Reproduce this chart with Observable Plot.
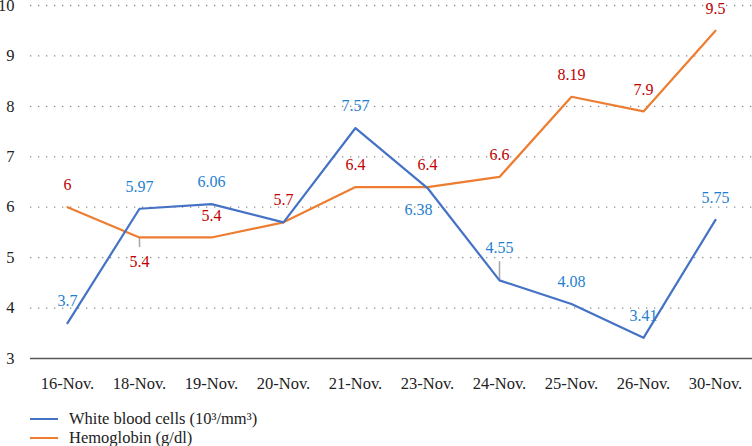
<!DOCTYPE html>
<html>
<head>
<meta charset="utf-8">
<script src="https://cdn.jsdelivr.net/npm/d3@7"></script>
<script src="https://cdn.jsdelivr.net/npm/@observablehq/plot@0.6"></script>
</head>
<body style="margin:0;background:#fff">
<div id="chart"></div>
<div id="legend" style="margin-left:30px;margin-top:11px"></div>
<script>
const dates = ["16-Nov.", "18-Nov.", "19-Nov.", "20-Nov.", "21-Nov.", "23-Nov.", "24-Nov.", "25-Nov.", "26-Nov.", "30-Nov."];
const wbc = [3.7, 5.97, 6.06, 5.7, 7.57, 6.38, 4.55, 4.08, 3.41, 5.75];
const hb = [6, 5.4, 5.4, 5.7, 6.4, 6.4, 6.6, 8.19, 7.9, 9.5];
const seriesNames = ["White blood cells (10³/mm³)", "Hemoglobin (g/dl)"];
const yTicks = [3, 4, 5, 6, 7, 8, 9, 10];
// label placement: labels below the line, labels lifted with a leader line, hidden labels
const wbcBelow = ["23-Nov."];
const wbcLifted = ["24-Nov."];
const hbBelow = ["18-Nov."];
const wbcHidden = ["20-Nov."];

const blue = "#4472C4", orange = "#ED7D31";
const blueText = "#1F7FD0", redText = "#C00000";
const serif = "'Liberation Serif', 'Times New Roman', serif";

const wbcData = dates.map((d, i) => ({date: d, v: wbc[i]}));
const hbData = dates.map((d, i) => ({date: d, v: hb[i]}));
const wbcNormal = wbcData.filter(d => !wbcBelow.includes(d.date) && !wbcHidden.includes(d.date) && !wbcLifted.includes(d.date));

const chart = Plot.plot({
  width: 752,
  height: 398,
  marginTop: 5,
  marginBottom: 40,
  marginLeft: 30,
  marginRight: 0,
  style: {fontFamily: serif, fontSize: "16.5px", color: "#222"},
  x: {type: "point", domain: dates, padding: 0.5, tickSize: 0, tickPadding: 19, label: null},
  y: {domain: [3, 10], ticks: yTicks, tickSize: 0, tickPadding: 16, label: null, tickFormat: d => d},
  marks: [
    Plot.ruleY(yTicks.filter(t => t > 3), {stroke: "#8a8a8a", strokeDasharray: "1.3,6.7", strokeWidth: 1.3}),
    Plot.ruleY([3], {stroke: "#595959", strokeWidth: 1.6}),
    Plot.ruleX(hbData.filter(d => hbBelow.includes(d.date)), {x: "date", y1: "v", y2: d => d.v - 0.2, stroke: "#a6a6a6", strokeWidth: 1.5}),
    Plot.ruleX(wbcData.filter(d => wbcLifted.includes(d.date)), {x: "date", y1: "v", y2: d => d.v + 0.37, stroke: "#a6a6a6", strokeWidth: 1.5}),
    Plot.line(hbData, {x: "date", y: "v", stroke: orange, strokeWidth: 2.2}),
    Plot.line(wbcData, {x: "date", y: "v", stroke: blue, strokeWidth: 2.2}),
    Plot.text(wbcNormal, {x: "date", y: "v", text: d => String(d.v), dy: -22, fill: blueText, fontSize: 16}),
    Plot.text(wbcData.filter(d => wbcLifted.includes(d.date)), {x: "date", y: "v", text: d => String(d.v), dy: -32, fill: blueText, fontSize: 16}),
    Plot.text(wbcData.filter(d => wbcBelow.includes(d.date)), {x: "date", y: "v", text: d => String(d.v), dy: 22, dx: -9, fill: blueText, fontSize: 16}),
    Plot.text(hbData.filter(d => !hbBelow.includes(d.date)), {x: "date", y: "v", text: d => String(d.v), dy: -22, fill: redText, fontSize: 16}),
    Plot.text(hbData.filter(d => hbBelow.includes(d.date)), {x: "date", y: "v", text: d => String(d.v), dy: 24, fill: redText, fontSize: 16})
  ]
});
chart.style.fontFamily = serif;
chart.style.display = "block";
d3.select(chart).selectAll("text").style("font-family", serif);
document.getElementById("chart").appendChild(chart);

const legend = document.getElementById("legend");
[[seriesNames[0], blue], [seriesNames[1], orange]].forEach(([name, c]) => {
  const row = document.createElement("div");
  row.style.cssText = "display:flex;align-items:center;height:19px";
  const sw = document.createElement("div");
  sw.style.cssText = "width:28px;height:2px;margin-right:11px;background:" + c;
  const t = document.createElement("span");
  t.style.cssText = "font-family:" + serif + ";font-size:16.5px;line-height:19px;color:#222";
  t.textContent = name;
  row.appendChild(sw);
  row.appendChild(t);
  legend.appendChild(row);
});
</script>
</body>
</html>
